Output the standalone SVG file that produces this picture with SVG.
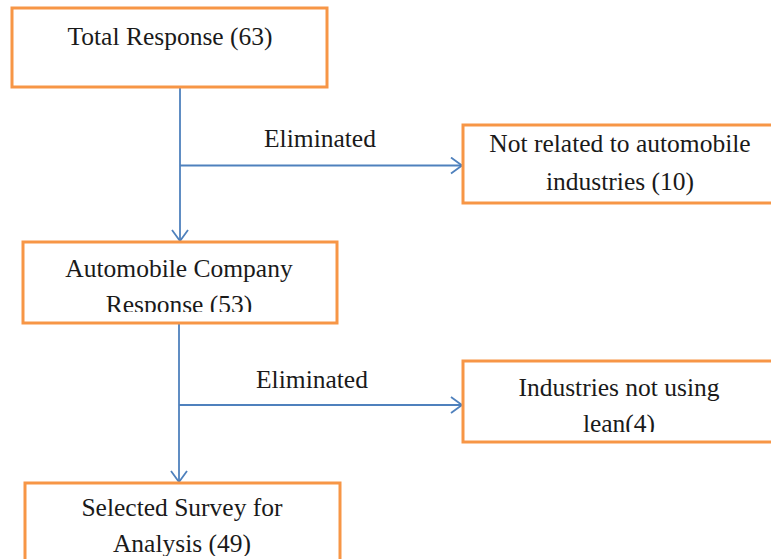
<svg xmlns="http://www.w3.org/2000/svg" width="771" height="559" viewBox="0 0 771 559">
<style>
.box{fill:#fff;stroke:#F79646;stroke-width:3}
.t{font-family:"Liberation Serif","Times New Roman",serif;font-size:25.5px;fill:#1a1a1a;text-anchor:middle}
.c{fill:none;stroke:#4F81BD;stroke-width:1.8}
</style>
<defs>
<marker id="ah" markerWidth="14" markerHeight="18" refX="12" refY="9" orient="auto" markerUnits="userSpaceOnUse">
<path d="M1,1 L12,9 L1,17" fill="none" stroke="#4F81BD" stroke-width="1.8"/>
</marker>
<clipPath id="c3"><rect x="23" y="242" width="314" height="70"/></clipPath>
<clipPath id="c4"><rect x="463" y="361" width="320" height="71"/></clipPath>
<clipPath id="c5"><rect x="25" y="483" width="315" height="73"/></clipPath>
</defs>
<rect width="771" height="559" fill="#fff"/>
<g id="connectors">
<path class="c" d="M180,87 V241" marker-end="url(#ah)"/>
<path class="c" d="M180,165.5 H462" marker-end="url(#ah)"/>
<path class="c" d="M179,323 V482" marker-end="url(#ah)"/>
<path class="c" d="M179,405 H462" marker-end="url(#ah)"/>
<text class="t" x="320" y="147">Eliminated</text>
<text class="t" x="312" y="388">Eliminated</text>
</g>
<g id="total">
<rect class="box" x="12" y="8" width="315" height="79"/>
<text class="t" x="170" y="45">Total Response (63)</text>
</g>
<g id="notrelated">
<rect class="box" x="463" y="125" width="320" height="78"/>
<text class="t" x="620" y="152">Not related to automobile</text>
<text class="t" x="620" y="190">industries (10)</text>
</g>
<g id="automobile">
<rect class="box" x="23" y="242" width="314" height="81"/>
<g clip-path="url(#c3)">
<text class="t" x="179" y="277">Automobile Company</text>
<text class="t" x="179" y="313">Response (53)</text>
</g>
</g>
<g id="notlean">
<rect class="box" x="463" y="361" width="320" height="81"/>
<g clip-path="url(#c4)">
<text class="t" x="619" y="396">Industries not using</text>
<text class="t" x="619" y="432">lean(4)</text>
</g>
</g>
<g id="selected">
<rect class="box" x="25" y="483" width="315" height="90"/>
<g clip-path="url(#c5)">
<text class="t" x="182" y="516">Selected Survey for</text>
<text class="t" x="182" y="552">Analysis (49)</text>
</g>
</g>
</svg>
